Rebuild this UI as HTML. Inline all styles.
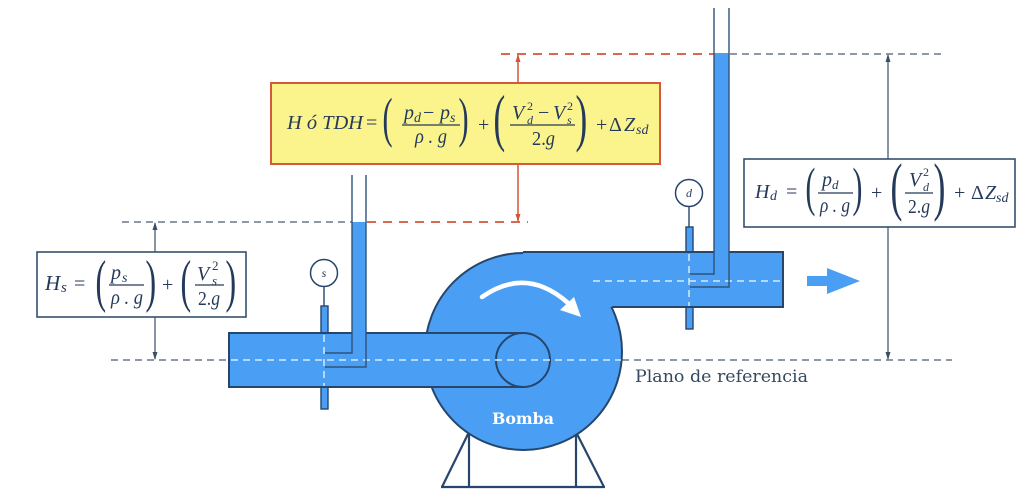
<!DOCTYPE html>
<html><head><meta charset="utf-8">
<style>
html,body{margin:0;padding:0;background:#fff;}
svg{display:block;}
.i{font-family:"Liberation Serif",serif;font-style:italic;fill:#253a5a;}
.r{font-family:"Liberation Serif",serif;fill:#253a5a;}
</style></head>
<body>
<svg width="1024" height="497" viewBox="0 0 1024 497" xmlns="http://www.w3.org/2000/svg">
<defs>
<marker id="ag" viewBox="0 0 8 8" refX="7" refY="4" markerWidth="8" markerHeight="8" markerUnits="userSpaceOnUse" orient="auto"><path d="M0,1.5 L8,4 L0,6.5 Z" fill="#3b4e68"/></marker>
<marker id="ar" viewBox="0 0 8 8" refX="7" refY="4" markerWidth="8" markerHeight="8" markerUnits="userSpaceOnUse" orient="auto"><path d="M0,1.5 L8,4 L0,6.5 Z" fill="#d4523a"/></marker>
</defs>

<!-- dashed reference lines -->
<g stroke-width="1.3" fill="none">
  <line x1="122" y1="222" x2="352" y2="222" stroke="#4a5a70" stroke-dasharray="7 5"/>
  <line x1="367" y1="222" x2="528" y2="222" stroke="#d4523a" stroke-width="1.8" stroke-dasharray="9 7"/>
  <line x1="501" y1="54" x2="714" y2="54" stroke="#d4523a" stroke-width="1.8" stroke-dasharray="9 7"/>
  <line x1="730" y1="54" x2="942" y2="54" stroke="#4a5a70" stroke-dasharray="7 5"/>
  <line x1="111" y1="360" x2="229" y2="360" stroke="#4a5a70" stroke-dasharray="7 5"/>
  <line x1="622" y1="360" x2="952" y2="360" stroke="#4a5a70" stroke-dasharray="7 5"/>
</g>

<!-- vertical dimension arrows -->
<line x1="155" y1="290" x2="155" y2="223" stroke="#3b4e68" stroke-width="1.2" marker-end="url(#ag)"/>
<line x1="155" y1="290" x2="155" y2="359" stroke="#3b4e68" stroke-width="1.2" marker-end="url(#ag)"/>
<line x1="888" y1="200" x2="888" y2="55" stroke="#3b4e68" stroke-width="1.2" marker-end="url(#ag)"/>
<line x1="888" y1="200" x2="888" y2="359" stroke="#3b4e68" stroke-width="1.2" marker-end="url(#ag)"/>
<line x1="518" y1="120" x2="518" y2="55" stroke="#d4523a" stroke-width="1.5" marker-end="url(#ar)"/>
<line x1="518" y1="120" x2="518" y2="221" stroke="#d4523a" stroke-width="1.5" marker-end="url(#ar)"/>

<!-- boxes -->
<rect x="37" y="252" width="209" height="65" fill="#fff" stroke="#34506f" stroke-width="1.6"/>
<rect x="271" y="83" width="389" height="81" fill="#fbf48c" stroke="#d45a3c" stroke-width="2"/>
<rect x="744" y="159" width="271" height="68" fill="#fff" stroke="#34506f" stroke-width="1.6"/>

<!-- base -->
<g stroke="#26466c" stroke-width="2.2" fill="none">
  <line x1="469" y1="430" x2="469" y2="487"/>
  <line x1="469" y1="432" x2="442" y2="487"/>
  <line x1="576" y1="430" x2="576" y2="487"/>
  <line x1="576" y1="432" x2="604" y2="487"/>
  <line x1="441" y1="487" x2="605" y2="487"/>
</g>

<!-- gauge taps -->
<rect x="321" y="306" width="7" height="103" fill="#4a9ff5" stroke="#26466c" stroke-width="1.4"/>
<rect x="686" y="227" width="7" height="102" fill="#4a9ff5" stroke="#26466c" stroke-width="1.4"/>

<!-- pump body -->
<circle cx="523.5" cy="351.5" r="98.5" fill="#4a9ff5" stroke="#26466c" stroke-width="2"/>

<!-- discharge pipe -->
<rect x="523" y="252" width="260" height="55" fill="#4a9ff5"/>
<g stroke="#26466c" stroke-width="2" fill="none">
  <line x1="523" y1="252" x2="784" y2="252"/>
  <line x1="783" y1="252" x2="783" y2="307"/>
  <line x1="612" y1="307" x2="784" y2="307"/>
</g>

<!-- suction pipe -->
<rect x="229" y="333" width="294" height="54" fill="#4a9ff5" stroke="#26466c" stroke-width="2"/>
<circle cx="523" cy="360" r="27" fill="#4a9ff5" stroke="#26466c" stroke-width="2"/>

<!-- white dashed centerlines -->
<g stroke="#d8ecff" stroke-width="1.5" stroke-dasharray="7 5" fill="none">
  <line x1="231" y1="360" x2="621" y2="360"/>
  <line x1="593" y1="281" x2="782" y2="281"/>
  <line x1="324" y1="335" x2="324" y2="386"/>
  <line x1="689" y1="254" x2="689" y2="306"/>
</g>

<!-- piezometer tubes -->
<rect x="352" y="222" width="14" height="112" fill="#4a9ff5"/>
<rect x="714" y="53" width="15" height="200" fill="#4a9ff5"/>
<g stroke="#2f5279" stroke-width="1.4" fill="none">
  <polyline points="352,175 352,353 325,353"/>
  <polyline points="366,175 366,367 325,367"/>
  <polyline points="714,8 714,274 690,274"/>
  <polyline points="729,8 729,287 690,287"/>
</g>

<!-- gauges -->
<line x1="324" y1="287" x2="324" y2="306" stroke="#26466c" stroke-width="1.4"/>
<circle cx="324" cy="273" r="13.5" fill="#fff" stroke="#26466c" stroke-width="1.5"/>
<text x="324" y="277" class="i" font-size="12" text-anchor="middle">s</text>
<line x1="689" y1="207" x2="689" y2="227" stroke="#26466c" stroke-width="1.4"/>
<circle cx="689" cy="193" r="13.5" fill="#fff" stroke="#26466c" stroke-width="1.5"/>
<text x="689" y="197" class="i" font-size="12" text-anchor="middle">d</text>

<!-- rotation arrow -->
<path d="M482 297 Q 526 266 568 303" stroke="#fff" stroke-width="4.5" fill="none" stroke-linecap="round"/>
<polygon points="581,317 560,310 574,297" fill="#fff"/>

<!-- outlet arrow -->
<polygon points="807,276 827,276 827,268 860,281 827,294 827,286 807,286" fill="#4a9ff5"/>

<!-- labels -->
<text x="523" y="424" text-anchor="middle" font-family="DejaVu Serif, serif" font-weight="bold" font-size="16" fill="#fff" textLength="62" lengthAdjust="spacingAndGlyphs">Bomba</text>
<text x="635" y="382" font-family="DejaVu Serif, serif" font-size="17" fill="#34495e" textLength="173" lengthAdjust="spacingAndGlyphs">Plano de referencia</text>

<!-- Hs formula -->
<text x="45" y="290" class="i" font-size="21">H</text>
<text x="61" y="292" class="i" font-size="15">s</text>
<text x="74" y="290" class="r" font-size="20">=</text>
<text class="r" font-size="58" transform="translate(95.5,300.5) scale(0.55,1)">(</text>
<text x="111" y="279" class="i" font-size="20">p</text>
<text x="122" y="282" class="i" font-size="14">s</text>
<line x1="109" y1="285" x2="144" y2="285" stroke="#253a5a" stroke-width="1.2"/>
<text x="111" y="304" class="i" font-size="20" textLength="32" lengthAdjust="spacingAndGlyphs">ρ . g</text>
<text class="r" font-size="58" transform="translate(145.5,300.5) scale(0.55,1)">)</text>
<text x="162" y="291" class="r" font-size="20">+</text>
<text class="r" font-size="58" transform="translate(180.5,300.5) scale(0.55,1)">(</text>
<text x="197" y="280" class="i" font-size="20">V</text>
<text x="212" y="270" class="r" font-size="13">2</text>
<text x="212" y="285" class="i" font-size="13">s</text>
<line x1="195" y1="285" x2="224" y2="285" stroke="#253a5a" stroke-width="1.2"/>
<text x="198" y="305" class="r" font-size="20" textLength="22" lengthAdjust="spacingAndGlyphs">2.<tspan font-style="italic">g</tspan></text>
<text class="r" font-size="58" transform="translate(225.5,300.5) scale(0.55,1)">)</text>

<!-- TDH formula -->
<text x="287" y="129" class="i" font-size="20" textLength="76" lengthAdjust="spacingAndGlyphs">H ó TDH</text>
<text x="366" y="129" class="r" font-size="20">=</text>
<text class="r" font-size="55" transform="translate(382.5,136) scale(0.55,1)">(</text>
<text x="404" y="119" class="i" font-size="20">p</text>
<text x="414" y="122" class="i" font-size="14">d</text>
<text x="423" y="119" class="r" font-size="20">−</text>
<text x="440" y="119" class="i" font-size="20">p</text>
<text x="450" y="122" class="i" font-size="14">s</text>
<line x1="402" y1="125" x2="460" y2="125" stroke="#253a5a" stroke-width="1.2"/>
<text x="415" y="143" class="i" font-size="20" textLength="32" lengthAdjust="spacingAndGlyphs">ρ . g</text>
<text class="r" font-size="55" transform="translate(458.5,136) scale(0.55,1)">)</text>
<text x="478" y="131" class="r" font-size="20">+</text>
<text class="r" font-size="64" transform="translate(493.5,139) scale(0.55,1)">(</text>
<text x="512" y="119" class="i" font-size="20">V</text>
<text x="527" y="110" class="r" font-size="12">2</text>
<text x="527" y="124" class="i" font-size="12">d</text>
<text x="538" y="119" class="r" font-size="20">−</text>
<text x="553" y="119" class="i" font-size="20">V</text>
<text x="567" y="110" class="r" font-size="12">2</text>
<text x="567" y="124" class="i" font-size="12">s</text>
<line x1="510" y1="125" x2="575" y2="125" stroke="#253a5a" stroke-width="1.2"/>
<text x="532" y="145" class="r" font-size="20" textLength="23" lengthAdjust="spacingAndGlyphs">2.<tspan font-style="italic">g</tspan></text>
<text class="r" font-size="64" transform="translate(575.5,139) scale(0.55,1)">)</text>
<text x="596" y="131" class="r" font-size="20">+</text>
<text x="609" y="131" class="r" font-size="20">Δ</text>
<text x="624" y="131" class="i" font-size="20">Z</text>
<text x="636" y="134" class="i" font-size="14">sd</text>

<!-- Hd formula -->
<text x="755" y="198" class="i" font-size="20">H</text>
<text x="770" y="200" class="i" font-size="14">d</text>
<text x="786" y="198" class="r" font-size="20">=</text>
<text class="r" font-size="54" transform="translate(805.5,205) scale(0.55,1)">(</text>
<text x="822" y="186" class="i" font-size="20">p</text>
<text x="832" y="189" class="i" font-size="13">d</text>
<line x1="818" y1="193" x2="853" y2="193" stroke="#253a5a" stroke-width="1.2"/>
<text x="820" y="212" class="i" font-size="20" textLength="30" lengthAdjust="spacingAndGlyphs">ρ . g</text>
<text class="r" font-size="54" transform="translate(852.5,205) scale(0.55,1)">)</text>
<text x="871" y="199" class="r" font-size="20">+</text>
<text class="r" font-size="65" transform="translate(890.5,208) scale(0.55,1)">(</text>
<text x="909" y="186" class="i" font-size="20">V</text>
<text x="923" y="176" class="r" font-size="12">2</text>
<text x="923" y="191" class="i" font-size="12">d</text>
<line x1="905" y1="193" x2="933" y2="193" stroke="#253a5a" stroke-width="1.2"/>
<text x="908" y="213" class="r" font-size="20" textLength="22" lengthAdjust="spacingAndGlyphs">2.<tspan font-style="italic">g</tspan></text>
<text class="r" font-size="65" transform="translate(933.5,208) scale(0.55,1)">)</text>
<text x="954" y="199" class="r" font-size="20">+</text>
<text x="971" y="199" class="r" font-size="20">Δ</text>
<text x="985" y="199" class="i" font-size="20">Z</text>
<text x="996" y="202" class="i" font-size="14">sd</text>
</svg>
</body></html>
